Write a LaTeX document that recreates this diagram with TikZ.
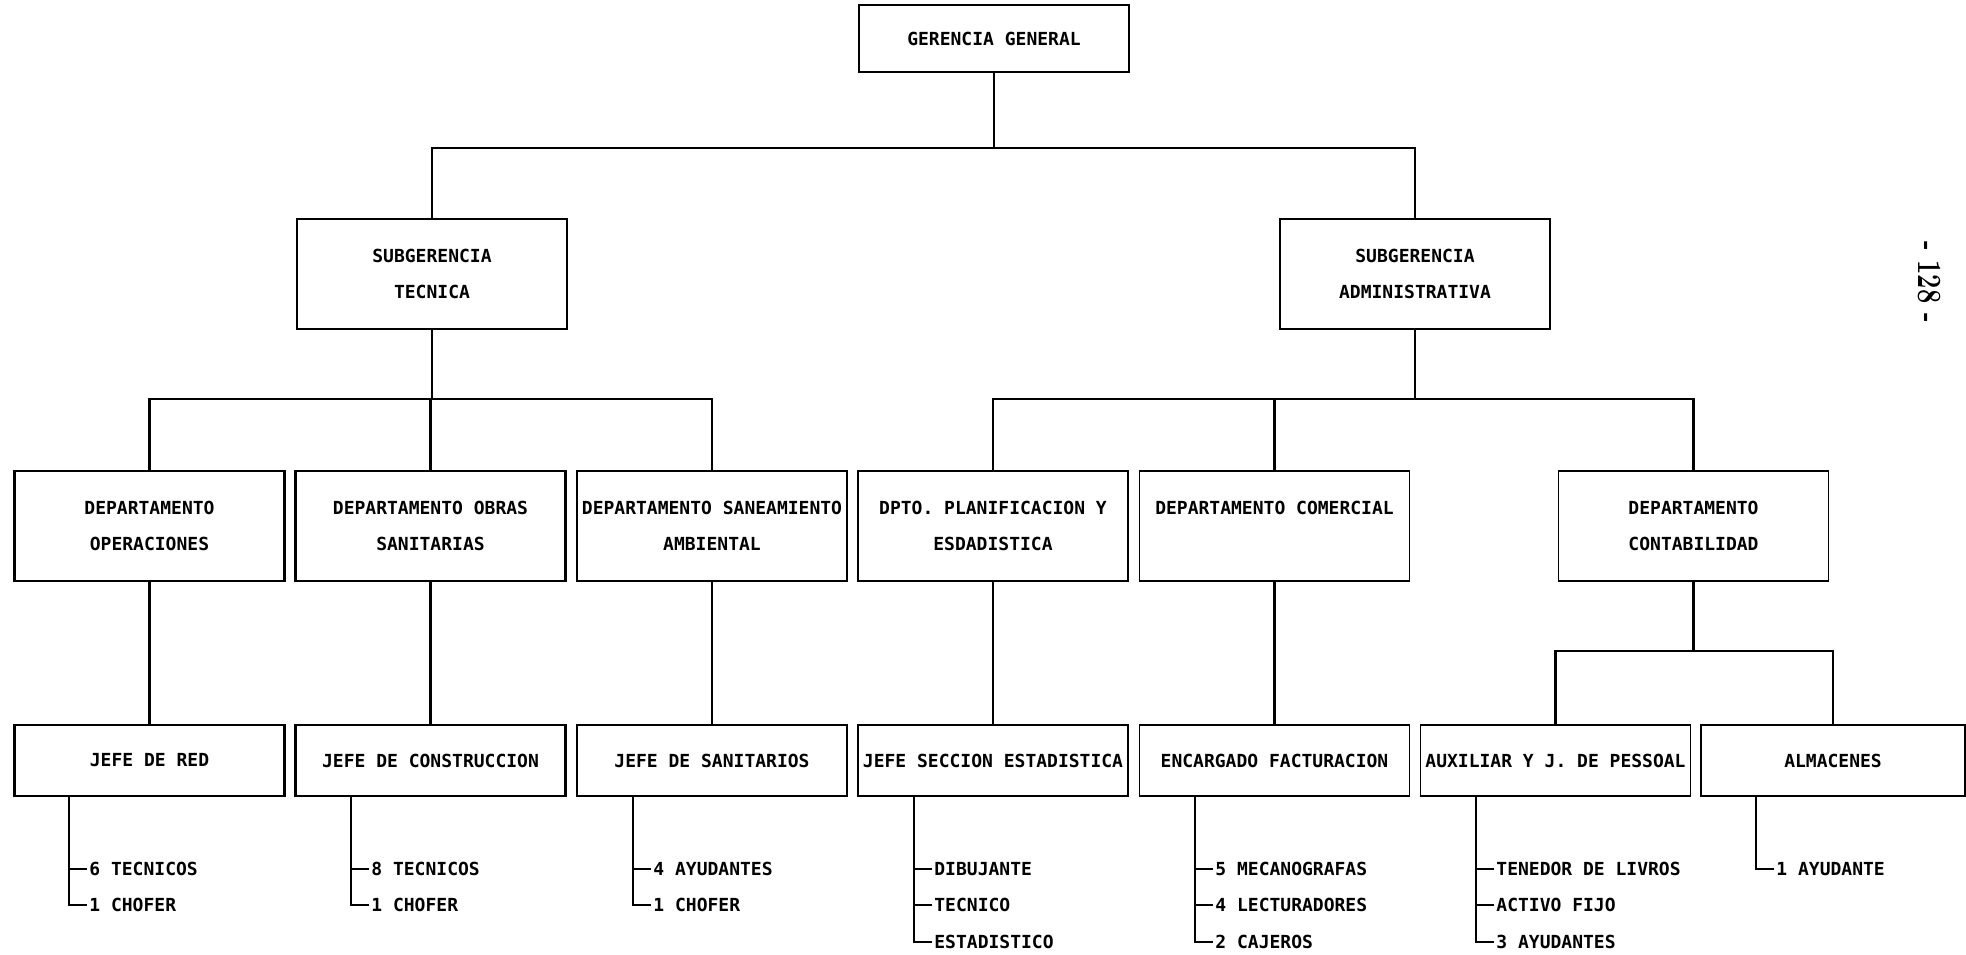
\documentclass[tikz,border=0pt]{standalone}
\usepackage{fontspec}
\newfontfamily\orgfont{DejaVu Sans Mono}
\begin{document}
\begin{tikzpicture}[x=0.5pt,y=-0.5pt,
  txt/.style={font=\orgfont\bfseries\fontsize{9}{18}\selectfont},
  boxdark/.style={txt,draw,line width=1.1pt,align=center,inner sep=0pt,minimum width=135pt},
  boxlight/.style={txt,draw,line width=0.6pt,align=center,inner sep=0pt,minimum width=135pt},
  tall/.style={minimum height=55pt},
  short/.style={minimum height=35.5pt},
  conn/.style={line width=1.1pt},
  item/.style={txt,anchor=west,inner sep=1pt}]
\useasboundingbox (0,0) rectangle (1966,954);
% top
\node[boxlight,minimum height=33.5pt] (gg) at (994,38.5) {GERENCIA GENERAL};
\node[boxdark,tall] (st) at (432,274) {SUBGERENCIA\\TECNICA};
\node[boxlight,tall] (sa) at (1415,274) {SUBGERENCIA\\ADMINISTRATIVA};
% departments
\node[boxdark,tall] (d1) at (149.5,526) {DEPARTAMENTO\\OPERACIONES};
\node[boxdark,tall] (d2) at (430.5,526) {DEPARTAMENTO OBRAS\\SANITARIAS};
\node[boxlight,tall] (d3) at (712,526) {DEPARTAMENTO SANEAMIENTO\\AMBIENTAL};
\node[boxlight,tall] (d4) at (993,526) {DPTO. PLANIFICACION Y\\ESDADISTICA};
\node[boxlight,tall] (d5) at (1274.5,526) {DEPARTAMENTO COMERCIAL\\\mbox{}};
\node[boxlight,tall] (d6) at (1693.5,526) {DEPARTAMENTO\\CONTABILIDAD};
% jefes
\node[boxdark,short] (j1) at (149.5,760.5) {JEFE DE RED};
\node[boxdark,short] (j2) at (430.5,760.5) {JEFE DE CONSTRUCCION};
\node[boxdark,short,line width=0.8pt] (j3) at (712,760.5) {JEFE DE SANITARIOS};
\node[boxlight,short] (j4) at (993,760.5) {JEFE SECCION ESTADISTICA};
\node[boxlight,short] (j5) at (1274.5,760.5) {ENCARGADO FACTURACION};
\node[boxlight,short] (j6) at (1555.5,760.5) {AUXILIAR Y J. DE PESSOAL};
\node[boxlight,short,minimum width=132pt] (j7) at (1833,760.5) {ALMACENES};
% buses
\coordinate (b0) at (997,148);
\coordinate (b1) at (435,399);
\coordinate (b2) at (1418,399);
\coordinate (b3) at (1700,651);
\draw[conn] (gg.south) -- (gg.south |- b0);
\draw[conn] (st.north) -- (st.north |- b0) -- (sa.north |- b0) -- (sa.north);
\draw[conn] (st.south) -- (st.south |- b1);
\draw[conn] (d1.north) -- (d1.north |- b1) -- (d3.north |- b1) -- (d3.north);
\draw[conn] (d2.north) -- (d2.north |- b1);
\draw[conn] (sa.south) -- (sa.south |- b2);
\draw[conn] (d4.north) -- (d4.north |- b2) -- (d6.north |- b2) -- (d6.north);
\draw[conn] (d5.north) -- (d5.north |- b2);
\foreach \d/\j in {d1/j1,d2/j2,d3/j3,d4/j4,d5/j5}
  \draw[conn] (\d.south) -- (\j.north);
\draw[conn] (d6.south) -- (d6.south |- b3);
\draw[conn] (j6.north) -- (j6.north |- b3) -- (j7.north |- b3) -- (j7.north);
% lists
\node[item] (i11) at (87,869) {6 TECNICOS};
\node[item] (i12) at (87,905) {1 CHOFER};
\draw[conn] (69,796) |- (i12.west); \draw[conn] (69,869) -- (i11.west);
\node[item] (i21) at (369,869) {8 TECNICOS};
\node[item] (i22) at (369,905) {1 CHOFER};
\draw[conn] (351,796) |- (i22.west); \draw[conn] (351,869) -- (i21.west);
\node[item] (i31) at (651,869) {4 AYUDANTES};
\node[item] (i32) at (651,905) {1 CHOFER};
\draw[conn] (633,796) |- (i32.west); \draw[conn] (633,869) -- (i31.west);
\node[item] (i41) at (932,869) {DIBUJANTE};
\node[item] (i42) at (932,905) {TECNICO};
\node[item] (i43) at (932,942) {ESTADISTICO};
\draw[conn] (914,796) |- (i43.west); \draw[conn] (914,869) -- (i41.west); \draw[conn] (914,905) -- (i42.west);
\node[item] (i51) at (1213,869) {5 MECANOGRAFAS};
\node[item] (i52) at (1213,905) {4 LECTURADORES};
\node[item] (i53) at (1213,942) {2 CAJEROS};
\draw[conn] (1195,796) |- (i53.west); \draw[conn] (1195,869) -- (i51.west); \draw[conn] (1195,905) -- (i52.west);
\node[item] (i61) at (1494,869) {TENEDOR DE LIVROS};
\node[item] (i62) at (1494,905) {ACTIVO FIJO};
\node[item] (i63) at (1494,942) {3 AYUDANTES};
\draw[conn] (1476,796) |- (i63.west); \draw[conn] (1476,869) -- (i61.west); \draw[conn] (1476,905) -- (i62.west);
\node[item] (i71) at (1774,869) {1 AYUDANTE};
\draw[conn] (1756,796) |- (i71.west);
% page number
\node[rotate=-90,font=\bfseries\fontsize{17}{17}\selectfont] (pg) at (1929,282) {\scalebox{0.75}[1]{- 128 -}};
\end{tikzpicture}
\end{document}
